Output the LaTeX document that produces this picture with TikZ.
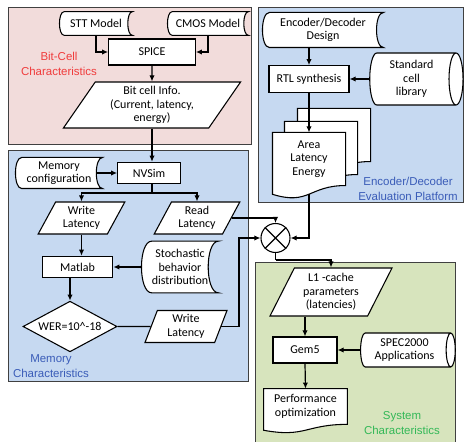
\documentclass[tikz,border=0pt]{standalone}
\usepackage{fontspec}
\setmainfont{Carlito}
\newfontfamily\labelfont{Liberation Sans}
\usetikzlibrary{arrows.meta,shapes.geometric}

\definecolor{bitcell}{HTML}{F2DCDB}
\definecolor{memblue}{HTML}{C6D9F1}
\definecolor{sysgreen}{HTML}{D7E4BD}
\definecolor{titlered}{HTML}{F03C3C}
\definecolor{titleblue}{HTML}{3A5CB8}
\definecolor{titlegreen}{HTML}{33B857}

\newdimen\shpxa \newdimen\shpxb \newdimen\shpya \newdimen\shpyb
\newdimen\shpd \newdimen\shpl \newdimen\shplc \newdimen\shprc

\makeatletter
% Stored data: bulging left side, hollow right side.
\pgfdeclareshape{stored data}{
  \inheritsavedanchors[from=rectangle]
  \inheritanchorborder[from=rectangle]
  \inheritanchor[from=rectangle]{center}
  \inheritanchor[from=rectangle]{north}
  \inheritanchor[from=rectangle]{south}
  \inheritanchor[from=rectangle]{west}
  \anchor{east}{%
    \southwest \pgf@ya=\pgf@y
    \northeast \pgf@xb=\pgf@x \pgf@yb=\pgf@y
    \pgf@xc=\pgf@yb \advance\pgf@xc by -\pgf@ya
    \pgf@x=\pgf@xb \advance\pgf@x by -0.2\pgf@xc
    \pgf@y=0.5\pgf@yb \advance\pgf@y by 0.5\pgf@ya
  }
  \backgroundpath{%
    \southwest \shpxa=\pgf@x \shpya=\pgf@y
    \northeast \shpxb=\pgf@x \shpyb=\pgf@y
    \shpd=\shpyb \advance\shpd by -\shpya \shpd=0.2\shpd
    \shpl=\shpxa \advance\shpl by \shpd
    \shplc=\shpxa \advance\shplc by -0.333\shpd
    \shprc=\shpxb \advance\shprc by -1.333\shpd
    \pgfpathmoveto{\pgfqpoint{\shpl}{\shpyb}}
    \pgfpathlineto{\pgfqpoint{\shpxb}{\shpyb}}
    \pgfpathcurveto{\pgfqpoint{\shprc}{\shpyb}}{\pgfqpoint{\shprc}{\shpya}}{\pgfqpoint{\shpxb}{\shpya}}
    \pgfpathlineto{\pgfqpoint{\shpl}{\shpya}}
    \pgfpathcurveto{\pgfqpoint{\shplc}{\shpya}}{\pgfqpoint{\shplc}{\shpyb}}{\pgfqpoint{\shpl}{\shpyb}}
    \pgfpathclose
  }
}
% Document: wavy lower edge hanging below the node box.
\pgfdeclareshape{wavy doc}{
  \inheritsavedanchors[from=rectangle]
  \inheritanchorborder[from=rectangle]
  \inheritanchor[from=rectangle]{center}
  \inheritanchor[from=rectangle]{north}
  \inheritanchor[from=rectangle]{west}
  \inheritanchor[from=rectangle]{east}
  \anchor{south}{%
    \southwest \pgf@xa=\pgf@x \pgf@ya=\pgf@y
    \northeast \pgf@xb=\pgf@x \pgf@yb=\pgf@y
    \pgf@x=0.5\pgf@xa \advance\pgf@x by 0.5\pgf@xb
    \pgf@yc=\pgf@yb \advance\pgf@yc by -\pgf@ya
    \pgf@y=\pgf@ya \advance\pgf@y by -0.163\pgf@yc
  }
  \backgroundpath{%
    \southwest \shpxa=\pgf@x \shpya=\pgf@y
    \northeast \shpxb=\pgf@x \shpyb=\pgf@y
    \shpd=\shpyb \advance\shpd by -\shpya
    \shpl=\shpya \advance\shpl by -0.165\shpd
    \shplc=\shpya \advance\shplc by -0.38\shpd
    \shprc=0.5\shpxa \advance\shprc by 0.5\shpxb
    \pgfpathmoveto{\pgfqpoint{\shpxa}{\shpyb}}
    \pgfpathlineto{\pgfqpoint{\shpxb}{\shpyb}}
    \pgfpathlineto{\pgfqpoint{\shpxb}{\shpya}}
    \pgfpathcurveto{\pgfqpoint{\shprc}{\shpya}}{\pgfqpoint{\shprc}{\shplc}}{\pgfqpoint{\shpxa}{\shpl}}
    \pgfpathclose
  }
}
\makeatother

\begin{document}
\begin{tikzpicture}[
  x=0.75pt,
  y=-0.75pt,
  box/.style={draw=black, fill=white, line width=0.8pt, align=center,
    font=\fontsize{9}{10.2}\selectfont, inner sep=1pt},
  block/.style={box, rectangle},
  datastore/.style={box, shape=stored data},
  io/.style={box, trapezium, trapezium left angle=63,
    trapezium right angle=117, trapezium stretches=true},
  disk/.style={box, cylinder, shape aspect=0.35},
  doc/.style={box, shape=wavy doc},
  decision/.style={box, diamond, inner sep=0pt},
  panel/.style={draw=black!75, line width=0.6pt},
  panel title/.style={font=\labelfont\fontsize{8.6}{11}\selectfont,
    align=center},
  link/.style={line width=0.9pt},
  flow/.style={line width=0.9pt, -{Latex[length=1.6mm,width=1.4mm]}}
]
  \path[use as bounding box] (0,0) rectangle (468,442);

  % Bit-cell characteristics.
  \draw[panel, fill=bitcell] (8,7) rectangle (251,144);
  \node[panel title, text=titlered] (bctitle) at (59,64)
    {Bit-Cell\\Characteristics};
  \node[datastore, minimum width=54pt, minimum height=17pt] (stt)
    at (96,23.5) {STT Model};
  \node[datastore, minimum width=60pt, minimum height=17pt] (cmos)
    at (208,23.5) {CMOS Model};
  \node[block, minimum width=65pt, minimum height=19.5pt] (spice)
    at (152,52) {SPICE};
  \node[io, trapezium left angle=59, trapezium right angle=121,
    minimum width=133pt, minimum height=34.5pt] (bitinfo) at (152,105)
    {Bit cell Info.\\(Current, latency,\\energy)};
  \draw[flow] (stt.south) |- (spice.west);
  \draw[flow] (cmos.south) |- (spice.east);
  \draw[flow] (spice.south) -- (bitinfo.north);

  % Encoder/decoder evaluation platform.
  \draw[panel, fill=memblue] (258,7) rectangle (463,202);
  \node[panel title, text=titleblue] (enctitle) at (408,189)
    {Encoder/Decoder\\Evaluation Platform};
  \node[datastore, minimum width=90pt, minimum height=25.5pt] (design)
    at (323,30) {Encoder/Decoder\\Design};
  \node[block, minimum width=60pt, minimum height=20pt] (rtl)
    at (309,79) {RTL synthesis};
  \node[disk, minimum height=70pt, minimum width=39pt] (stdlib)
    at (411.5,79) {Standard\\cell\\library};
  \node[doc, minimum width=54pt, minimum height=39pt] (ale3) at (334,135) {};
  \node[doc, minimum width=54pt, minimum height=39pt] (ale2) at (321,148) {};
  \node[doc, minimum width=54pt, minimum height=39pt] (ale) at (309,159)
    {Area\\Latency\\Energy};
  \draw[flow] (rtl.north |- design.south) -- (rtl.north);
  \draw[flow] (stdlib.west) -- (rtl.east);
  \draw[flow] (rtl.south) -- (ale.north);

  % Memory characteristics.
  \draw[panel, fill=memblue] (8,150) rectangle (248,381);
  \node[panel title, text=titleblue] (memtitle) at (51,366)
    {Memory\\Characteristics};
  \node[datastore, minimum width=64.5pt, minimum height=22.5pt] (memcfg)
    at (59,173) {Memory\\configuration};
  \node[block, minimum width=47pt, minimum height=16pt] (nvsim)
    at (149,173) {NVSim};
  \node[io, minimum width=65pt, minimum height=24pt] (wlat)
    at (81.5,218) {Write\\Latency};
  \node[io, minimum width=64.5pt, minimum height=24pt] (rlat)
    at (197,218) {Read\\Latency};
  \node[datastore, minimum width=57pt, minimum height=38pt] (stoch)
    at (180,267) {Stochastic\\behavior\\distribution};
  \node[block, minimum width=53pt, minimum height=16pt] (matlab)
    at (77.5,267) {Matlab};
  \node[decision, aspect=1.85, minimum width=70.5pt, minimum height=38pt]
    (wer) at (70,326.5) {WER=10\textasciicircum-18};
  \node[io, trapezium left angle=72, trapezium right angle=108,
    minimum width=61.5pt, minimum height=24pt] (wlat2) at (186,326.5)
    {Write\\Latency};
  \draw[flow] (bitinfo.south) -- (bitinfo.south |- nvsim.north);
  \draw[flow] (memcfg.east) -- (nvsim.west);
  \coordinate (split) at (152,193);
  \draw[link] (split |- nvsim.south) -- (split);
  \draw[flow] (split) -| (wlat.north);
  \draw[flow] (split) -| (rlat.north);
  \draw[flow] (wlat.south) -- (wlat.south |- matlab.north);
  \draw[flow] (stoch.west) -- (matlab.east);
  \draw[flow] (wer.north |- matlab.south) -- (wer.north);
  \draw[link] (wer.east) -- (wlat2.west);

  % System characteristics.
  \draw[panel, fill=sysgreen] (255,262) rectangle (455,446);
  \node[panel title, text=titlegreen] (systitle) at (402,423)
    {System\\Characteristics};
  \node[io, trapezium left angle=64, trapezium right angle=116,
    minimum width=91.5pt, minimum height=36pt] (l1) at (331,292)
    {L1 -cache\\parameters\\(latencies)};
  \node[block, minimum width=48pt, minimum height=19.5pt] (gem5)
    at (305,350) {Gem5};
  \node[disk, minimum height=71pt, minimum width=25.5pt] (spec)
    at (404.5,350) {SPEC2000\\Applications};
  \node[doc, minimum width=62pt, minimum height=26pt] (perf)
    at (305.5,406.5) {Performance\\optimization};
  \draw[flow] (gem5.north |- l1.south) -- (gem5.north);
  \draw[flow] (spec.west) -- (gem5.east);
  \draw[flow] (gem5.south) -- (perf.north);

  % Combining the latencies.
  \node[circle, draw=black, fill=white, line width=0.8pt,
    minimum size=21.75pt, inner sep=0pt] (mix) at (275.5,238) {};
  \draw[line width=0.8pt] (mix.north west) -- (mix.south east)
    (mix.north east) -- (mix.south west);
  \draw[flow] (rlat.east) -| (mix.north);
  \coordinate (wlup) at (239,280);
  \draw[flow] (wlat2.east) -| (wlup) |- (mix.west);
  \draw[flow] (ale.south) |- (mix.east);
  \coordinate (join) at (275.5,260);
  \draw[link] (mix.south) -- (join);
  \draw[flow] (join) -| (l1.north);
\end{tikzpicture}
\end{document}
